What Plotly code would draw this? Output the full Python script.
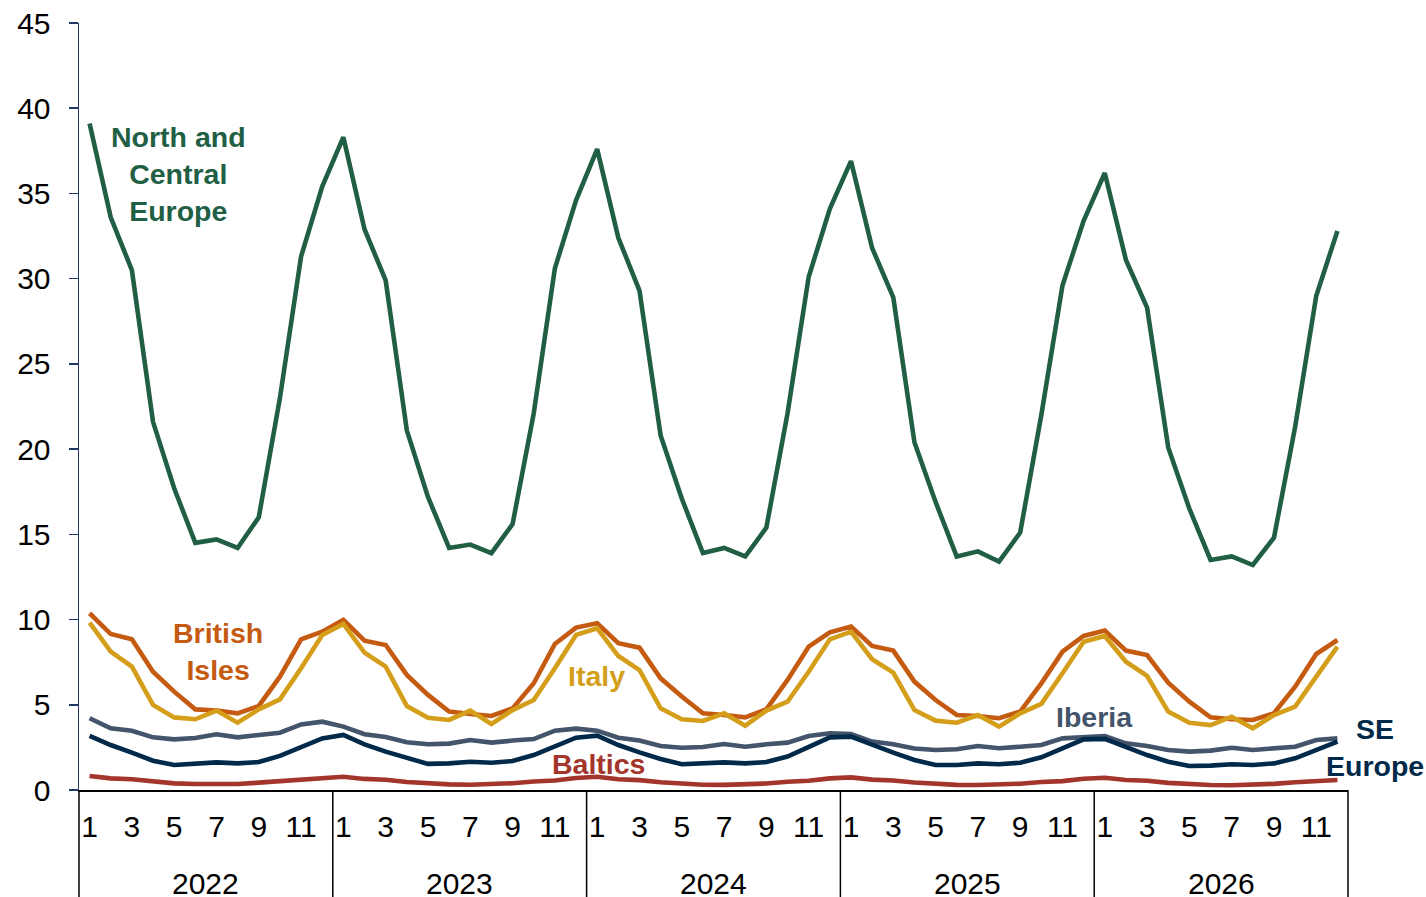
import plotly.graph_objects as go

years = ["2022", "2023", "2024", "2025", "2026"]
months = list(range(1, 13))

north_central = [39.1, 33.6, 30.5, 21.6, 17.7, 14.5, 14.7, 14.2, 16.0, 23.0, 31.3, 35.4,
                 38.3, 32.9, 29.9, 21.1, 17.2, 14.2, 14.4, 13.9, 15.6, 22.1, 30.6, 34.6,
                 37.6, 32.4, 29.3, 20.8, 17.1, 13.9, 14.2, 13.7, 15.4, 22.1, 30.1, 34.1,
                 36.9, 31.8, 28.9, 20.4, 16.9, 13.7, 14.0, 13.4, 15.1, 22.0, 29.6, 33.4,
                 36.2, 31.1, 28.3, 20.1, 16.5, 13.5, 13.7, 13.2, 14.8, 21.3, 29.0, 32.8]
british_isles = [10.37, 9.15, 8.84, 6.94, 5.77, 4.73, 4.66, 4.50, 4.93, 6.65, 8.84, 9.29,
                 9.98, 8.76, 8.51, 6.75, 5.58, 4.60, 4.46, 4.34, 4.79, 6.26, 8.57, 9.53,
                 9.78, 8.61, 8.35, 6.55, 5.48, 4.50, 4.40, 4.26, 4.73, 6.46, 8.41, 9.25,
                 9.59, 8.45, 8.18, 6.36, 5.28, 4.40, 4.34, 4.21, 4.60, 6.26, 8.12, 9.04,
                 9.35, 8.18, 7.92, 6.30, 5.18, 4.26, 4.15, 4.11, 4.50, 6.06, 7.98, 8.80]
italy = [9.82, 8.12, 7.24, 4.99, 4.26, 4.15, 4.66, 3.95, 4.73, 5.32, 7.14, 9.10,
         9.74, 8.06, 7.24, 4.93, 4.24, 4.11, 4.66, 3.87, 4.69, 5.28, 7.14, 9.10,
         9.49, 7.86, 7.04, 4.79, 4.15, 4.05, 4.50, 3.77, 4.66, 5.18, 6.94, 8.84,
         9.29, 7.67, 6.89, 4.69, 4.07, 3.95, 4.40, 3.72, 4.50, 5.05, 6.85, 8.70,
         9.04, 7.53, 6.69, 4.60, 3.95, 3.81, 4.30, 3.62, 4.40, 4.89, 6.65, 8.41]
iberia = [4.21, 3.62, 3.48, 3.09, 2.97, 3.05, 3.27, 3.09, 3.23, 3.36, 3.85, 4.01,
          3.72, 3.27, 3.11, 2.80, 2.68, 2.72, 2.93, 2.78, 2.90, 2.99, 3.48, 3.60,
          3.48, 3.07, 2.90, 2.58, 2.48, 2.52, 2.70, 2.54, 2.68, 2.78, 3.17, 3.33,
          3.29, 2.84, 2.68, 2.43, 2.35, 2.39, 2.58, 2.45, 2.54, 2.64, 3.03, 3.13,
          3.17, 2.74, 2.58, 2.35, 2.25, 2.31, 2.48, 2.35, 2.45, 2.54, 2.93, 3.03]
se_europe = [3.17, 2.64, 2.19, 1.72, 1.47, 1.53, 1.62, 1.56, 1.64, 2.00, 2.50, 3.03,
             3.23, 2.68, 2.25, 1.86, 1.53, 1.56, 1.66, 1.60, 1.70, 2.05, 2.54, 3.07,
             3.19, 2.64, 2.21, 1.82, 1.51, 1.55, 1.62, 1.56, 1.64, 1.96, 2.54, 3.09,
             3.13, 2.64, 2.19, 1.76, 1.47, 1.47, 1.56, 1.51, 1.60, 1.92, 2.45, 2.97,
             3.00, 2.50, 2.05, 1.66, 1.41, 1.43, 1.51, 1.47, 1.56, 1.86, 2.35, 2.84]
baltics = [0.82, 0.68, 0.63, 0.49, 0.39, 0.35, 0.33, 0.35, 0.43, 0.53, 0.59, 0.72,
           0.78, 0.65, 0.60, 0.47, 0.37, 0.33, 0.31, 0.33, 0.40, 0.50, 0.56, 0.70,
           0.78, 0.63, 0.58, 0.45, 0.35, 0.31, 0.30, 0.31, 0.38, 0.48, 0.54, 0.68,
           0.74, 0.61, 0.56, 0.44, 0.34, 0.30, 0.29, 0.30, 0.37, 0.47, 0.52, 0.66,
           0.72, 0.59, 0.54, 0.42, 0.33, 0.29, 0.28, 0.29, 0.36, 0.45, 0.51, 0.59]

y_ticks = [0, 5, 10, 15, 20, 25, 30, 35, 40, 45]

FONT = "Arial, Liberation Sans, sans-serif"
C_NCE = "#215F45"
C_BI = "#C55A11"
C_IT = "#D49E1A"
C_IB = "#44546A"
C_SE = "#00294A"
C_BA = "#A3352B"
TICK_SIZE = 30
LABEL_SIZE = 28.5

n = len(years) * len(months)
xs = list(range(n))

fig = go.Figure()
series = [
    ("Baltics", baltics, C_BA),
    ("Iberia", iberia, C_IB),
    ("SE Europe", se_europe, C_SE),
    ("British Isles", british_isles, C_BI),
    ("Italy", italy, C_IT),
    ("North and Central Europe", north_central, C_NCE),
]
for name, vals, col in series:
    fig.add_trace(go.Scatter(x=xs, y=vals, mode="lines", name=name,
                             line=dict(color=col, width=4.6), hoverinfo="skip"))

tickvals = [i for i in xs if months[i % 12] % 2 == 1]
ticktext = [str(months[i % 12]) for i in tickvals]

fig.update_layout(
    width=1426, height=897,
    margin=dict(l=79, r=78, t=23, b=107, autoexpand=False),
    paper_bgcolor="white", plot_bgcolor="white",
    showlegend=False,
    font=dict(family=FONT, size=TICK_SIZE, color="black"),
    xaxis=dict(range=[-0.5, n - 0.5], tickvals=tickvals, ticktext=ticktext,
               showgrid=False, zeroline=False, showline=True, linecolor="black",
               linewidth=1.5, ticks="", ticklabelstandoff=9, automargin=False,
               tickfont=dict(size=TICK_SIZE, family=FONT, color="black")),
    yaxis=dict(range=[0, 45], tickvals=y_ticks, showgrid=False, zeroline=False,
               showline=True, linecolor="#1F3864", linewidth=1.5,
               ticks="outside", ticklen=9, tickcolor="#1F3864", tickwidth=1.5,
               ticklabelstandoff=12, automargin=False,
               tickfont=dict(size=TICK_SIZE, family=FONT, color="black")),
)

plot_h = 897 - 23 - 107
nyears = len(years)
for k in range(nyears + 1):
    fig.add_shape(type="line", xref="paper", yref="paper",
                  x0=k / nyears, x1=k / nyears, y0=0, y1=-110 / plot_h,
                  line=dict(color="black", width=1.5))
for k, yr in enumerate(years):
    fig.add_annotation(text=yr, xref="paper", yref="paper",
                       x=(k + 0.5) / nyears, y=-93 / plot_h, showarrow=False,
                       xanchor="center", yanchor="middle",
                       font=dict(size=TICK_SIZE, family=FONT, color="black"))

labels = [
    ("<b>North and<br>Central<br>Europe</b>", 4.2, 36.15, C_NCE),
    ("<b>British<br>Isles</b>", 6.05, 8.1, C_BI),
    ("<b>Italy</b>", 23.95, 6.7, C_IT),
    ("<b>Iberia</b>", 47.5, 4.28, C_IB),
    ("<b>Baltics</b>", 24.05, 1.53, C_BA),
]
for txt, x, y, col in labels:
    fig.add_annotation(text=txt, x=x, y=y, xref="x", yref="y", showarrow=False,
                       xanchor="center", yanchor="middle",
                       font=dict(size=LABEL_SIZE, family=FONT, color=col))
fig.add_annotation(text="<b>SE<br>Europe</b>", x=(1375 - 79) / 1269, y=2.52,
                   xref="paper", yref="y", showarrow=False,
                   xanchor="center", yanchor="middle",
                   font=dict(size=LABEL_SIZE, family=FONT, color=C_SE))

fig.write_html("out.html", config={"displayModeBar": False, "staticPlot": True})

with open("out.html", "r", encoding="utf-8") as f:
    html = f.read()
html = html.replace("<head>", "<head><style>html,body{margin:0;padding:0;overflow:hidden;}</style>", 1)
with open("out.html", "w", encoding="utf-8") as f:
    f.write(html)
